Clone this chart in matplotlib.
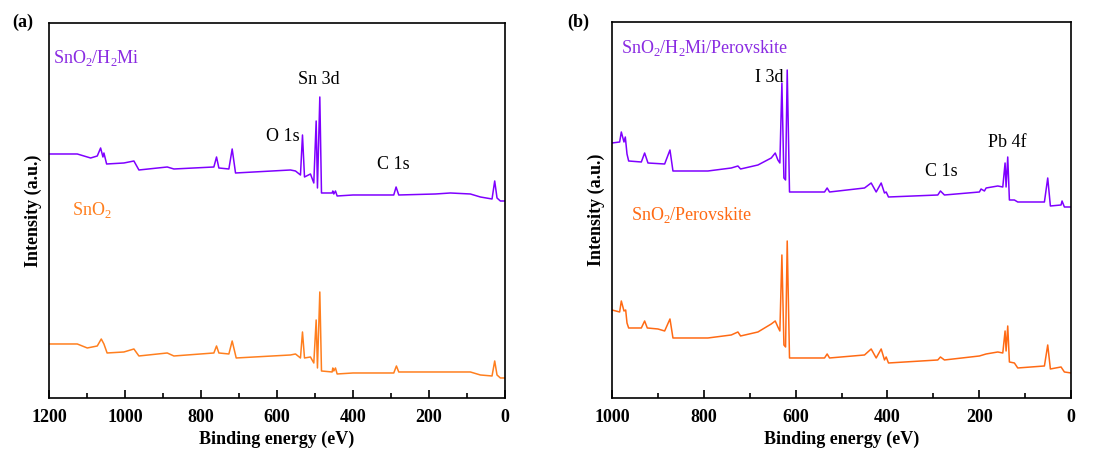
import matplotlib.pyplot as plt
from matplotlib.ticker import MultipleLocator

plt.rcParams['font.family'] = ['Liberation Serif', 'DejaVu Serif']
plt.rcParams['mathtext.fontset'] = 'custom'
plt.rcParams['mathtext.rm'] = 'Liberation Serif'

# (a) SnO2 and SnO2/H2Mi survey spectra, binding energy (eV) vs intensity (a.u.)
a_top_energy = [1200, 1125.5, 1116.7, 1090.4, 1072.9, 1064.1, 1058.0, 1055.4, 1048.3, 1002.8, 976.5,
                963.3, 888.8, 871.3, 766.1, 759.1, 752.9, 726.6, 717.9, 709.1, 564.5, 551.3,
                538.2, 532.9, 527.6, 511.9, 503.1, 496.9, 493.5, 487.3, 482.9, 454.9, 453.1,
                450.5, 446.1, 441.7, 400.0, 292.7, 286.6, 279.6, 183.1, 143.7, 91.1, 64.8,
                34.1, 27.1, 21.0, 12.2, 0]
a_top_int = [244, 244, 243, 240, 242, 250, 241, 245, 234, 235, 237,
             228, 231, 229, 231, 241, 230, 229, 249, 225, 228, 227,
             223, 263, 221, 224, 215, 277, 210, 301, 205, 205, 207,
             204, 207, 202, 203, 203, 211, 203, 204, 205, 204, 201,
             199, 217, 200, 197, 197]

a_bot_energy = [1200, 1125.5, 1099.2, 1072.9, 1062.4, 1055.4, 1047.0, 1002.8, 976.5, 963.3,
                888.8, 871.3, 766.1, 759.1, 752.9, 726.6, 717.9, 707.3, 564.5, 551.3,
                538.2, 532.9, 527.6, 511.9, 503.1, 496.9, 493.5, 487.3, 482.9, 454.9,
                453.1, 450.5, 446.1, 441.7, 400.0, 292.7, 285.7, 279.6, 183.1, 91.1,
                64.8, 34.1, 27.1, 21.0, 12.2, 0]
a_bot_int = [54, 54, 50, 52, 59, 54, 45, 46, 49, 42,
             45, 42, 45, 52, 45, 44, 57, 40, 43, 44,
             40, 66, 40, 41, 35, 78, 30, 106, 27, 26,
             30, 27, 30, 24, 25, 25, 32, 26, 26, 26,
             23, 22, 37, 23, 20, 20]

# (b) SnO2/Perovskite and SnO2/H2Mi/Perovskite survey spectra
b_top_energy = [1000, 983.3, 979.7, 973.9, 971.0, 967.3, 963.7, 936.1, 928.9, 921.6,
                885.3, 873.7, 867.2, 791.0, 740.2, 725.7, 719.9, 682.1, 653.1, 644.4,
                638.6, 634.3, 629.9, 625.5, 621.9, 618.3, 613.3, 537.0, 531.3, 526.1,
                449.9, 435.4, 424.5, 413.6, 406.4, 402.7, 397.7, 290.3, 284.5, 275.8,
                199.6, 196.0, 188.7, 185.0, 159.6, 148.7, 143.7, 141.5, 137.9, 134.3,
                123.4, 116.1, 58.0, 50.8, 45.0, 21.8, 19.6, 14.5, 0]
b_top_int = [255, 256, 266, 256, 261, 244, 237, 236, 245, 235,
             234, 248, 227, 227, 230, 232, 229, 233, 240, 245,
             238, 235, 315, 220, 218, 328, 206, 206, 210, 206,
             210, 215, 206, 215, 205, 206, 201, 203, 207, 203,
             206, 209, 207, 210, 212, 211, 235, 211, 241, 198,
             198, 196, 196, 220, 192, 193, 197, 191, 191]

b_bot_energy = [1000, 983.3, 979.7, 973.9, 970.2, 967.3, 963.7, 936.1, 928.9, 923.1,
                899.9, 885.3, 873.7, 867.2, 791.0, 740.2, 725.7, 719.9, 682.1, 653.1,
                644.4, 638.6, 634.3, 629.9, 625.5, 621.9, 618.3, 613.3, 537.0, 531.3,
                526.1, 449.9, 435.4, 424.5, 413.6, 406.4, 402.7, 397.7, 290.3, 284.5,
                275.8, 199.6, 185.0, 159.6, 148.7, 143.7, 141.5, 137.9, 134.3, 123.4,
                116.1, 58.0, 50.8, 45.0, 21.8, 14.5, 0]
b_bot_int = [88, 86, 97, 87, 88, 75, 70, 70, 77, 70,
             69, 67, 79, 60, 60, 63, 66, 62, 66, 74,
             77, 71, 67, 143, 53, 51, 157, 40, 40, 44,
             40, 43, 49, 40, 49, 38, 41, 35, 38, 41,
             38, 42, 44, 46, 45, 67, 47, 72, 36, 35,
             30, 32, 53, 29, 31, 26, 25]

purple = '#7F00FF'
purple_txt = '#8A2BE2'
orange_a = '#FF7F1E'
orange_b = '#FF6A14'

fig = plt.figure(figsize=(11.18, 4.5), dpi=100)
ax1 = fig.add_axes([0.0438, 0.1156, 0.4079, 0.8333])
ax2 = fig.add_axes([0.5474, 0.1156, 0.4106, 0.8355])

ax1.plot(a_top_energy, a_top_int, color=purple, lw=1.1)
ax1.plot(a_bot_energy, a_bot_int, color=orange_a, lw=1.1)
ax1.set_xlim(1200, 0)
ax1.set_ylim(0, 375)

ax2.plot(b_top_energy, b_top_int, color=purple, lw=1.1)
ax2.plot(b_bot_energy, b_bot_int, color=orange_b, lw=1.1)
ax2.set_xlim(1000, 0)
ax2.set_ylim(0, 376)

for ax in (ax1, ax2):
    ax.xaxis.set_major_locator(MultipleLocator(200))
    ax.xaxis.set_minor_locator(MultipleLocator(100))
    ax.tick_params(axis='x', which='major', direction='in', length=6, width=1.2, pad=8)
    ax.tick_params(axis='x', which='minor', direction='in', length=3.5, width=1.2)
    ax.set_yticks([])
    for lab in ax.get_xticklabels():
        lab.set_fontweight('bold')
        lab.set_fontsize(13)
    for sp in ax.spines.values():
        sp.set_linewidth(1.2)
    ax.set_xlabel('Binding energy (eV)', fontsize=13, fontweight='bold', labelpad=3)
    ax.set_ylabel('Intensity (a.u.)', fontsize=13, fontweight='bold', labelpad=5)

fs = 13
ax1.text(1189, 340, r'SnO$_2$/H$_2$Mi', color=purple_txt, fontsize=fs, va='center', ha='left')
ax1.text(1139, 188, r'SnO$_2$', color=orange_a, fontsize=fs, va='center', ha='left')
ax1.text(489, 318, 'Sn 3d', fontsize=fs, va='center', ha='center')
ax1.text(585, 261, 'O 1s', fontsize=fs, va='center', ha='center')
ax1.text(295, 233, 'C 1s', fontsize=fs, va='center', ha='center')

ax2.text(980, 350, r'SnO$_2$/H$_2$Mi/Perovskite', color=purple_txt, fontsize=fs, va='center', ha='left')
ax2.text(959, 183, r'SnO$_2$/Perovskite', color=orange_b, fontsize=fs, va='center', ha='left')
ax2.text(658, 321, 'I 3d', fontsize=fs, va='center', ha='center')
ax2.text(139, 255, 'Pb 4f', fontsize=fs, va='center', ha='center')
ax2.text(282, 226, 'C 1s', fontsize=fs, va='center', ha='center')

fig.text(0.011, 0.95, '(a)', fontsize=13, fontweight='bold', va='center', ha='left')
fig.text(0.507, 0.95, '(b)', fontsize=13, fontweight='bold', va='center', ha='left')

fig.savefig('out.png', dpi=100)
